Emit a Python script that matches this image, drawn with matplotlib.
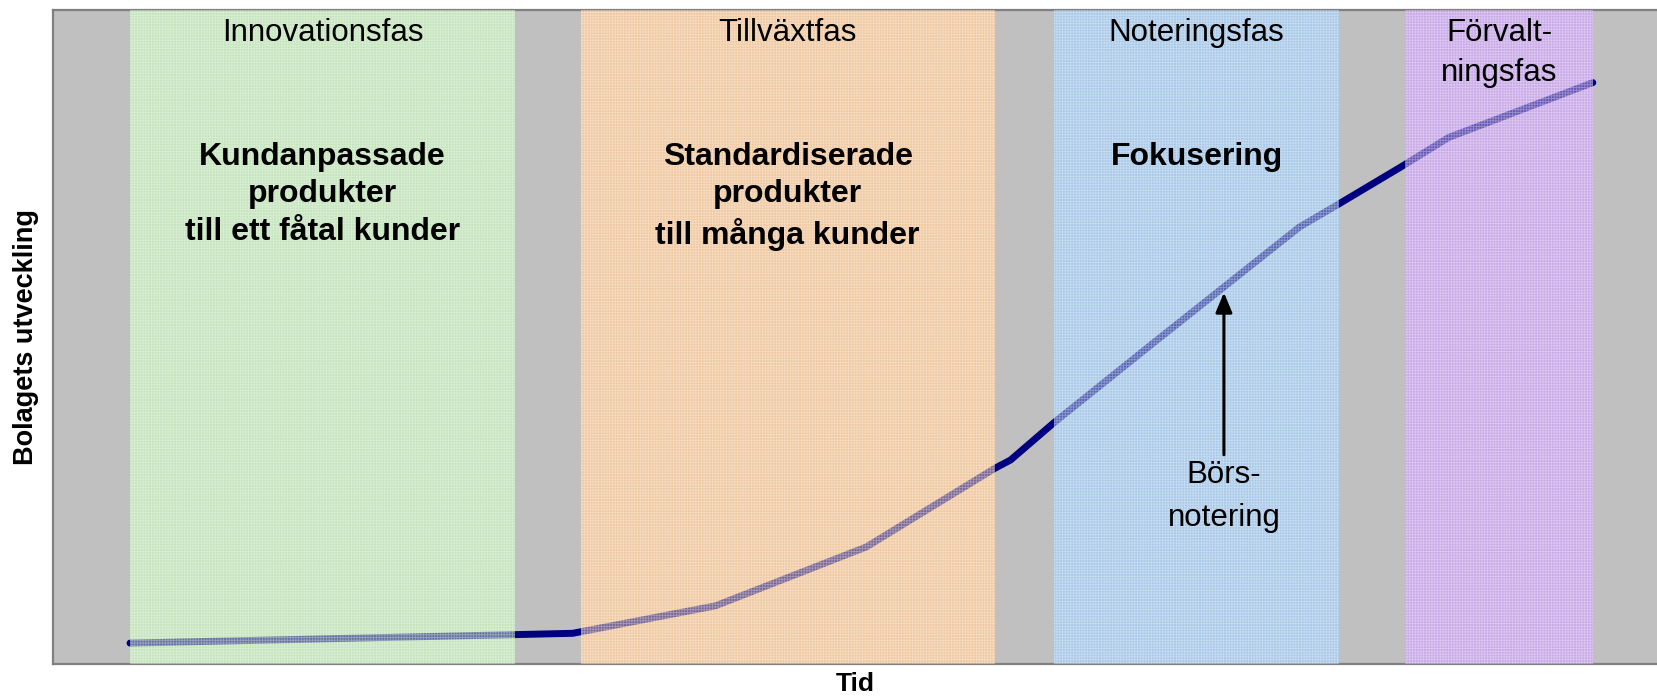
import matplotlib
matplotlib.use("Agg")
import matplotlib.pyplot as plt
from matplotlib.patches import Rectangle

plt.rcParams["font.family"] = ["Liberation Sans", "DejaVu Sans"]

# company development curve (x = time, y = development), axes 0..100
curve_x = [4.8, 28.8, 32.4, 41.3, 50.7, 58.7, 59.7, 62.4, 68.4, 77.7, 80.2, 84.1, 87.0, 96.0]
curve_y = [3.2, 4.5, 4.7, 8.9, 17.9, 29.9, 31.2, 36.9, 48.7, 66.8, 70.4, 76.1, 80.5, 88.9]

phase_names = ["Innovationsfas", "Tillväxtfas", "Noteringsfas", "Förvalt-\nningsfas"]
phase_start = [4.8, 32.9, 62.4, 84.3]
phase_end = [28.8, 58.7, 80.2, 96.0]
phase_colors = ["#c4e4bc", "#f0c8a0", "#a8c8e8", "#c8a8e8"]
phase_text = ["Kundanpassade\nprodukter\ntill ett fåtal kunder",
              "Standardiserade\nprodukter\ntill många kunder",
              "Fokusering", ""]

listing_x = 73.0
listing_tip = 56.8
listing_tail = 32.0

fig = plt.figure(figsize=(16.57, 6.99), dpi=100)
ax = fig.add_axes([0.032, 0.050, 0.968, 0.9357])
ax.set_facecolor("#c0c0c0")
ax.set_xlim(0, 100)
ax.set_ylim(0, 100)
ax.set_xticks([])
ax.set_yticks([])
for side in ("left", "top", "bottom"):
    ax.spines[side].set_color("#808080")
    ax.spines[side].set_linewidth(1.6)
ax.spines["right"].set_visible(False)

for x0, x1, c in zip(phase_start, phase_end, phase_colors):
    ax.add_patch(Rectangle((x0, 0), x1 - x0, 100, facecolor=c, edgecolor="none", zorder=1))

ax.plot(curve_x, curve_y, color="#000080", lw=5, solid_capstyle="round",
        solid_joinstyle="round", zorder=2)

# translucent band overlay tints the line inside each phase, fine grid texture
plt.rcParams["hatch.linewidth"] = 0.6
for x0, x1, c in zip(phase_start, phase_end, phase_colors):
    ax.add_patch(Rectangle((x0, 0), x1 - x0, 100, facecolor=c, alpha=0.5,
                           edgecolor="none", zorder=3))
    ax.add_patch(Rectangle((x0, 0), x1 - x0, 100, facecolor="none", hatch="++++++",
                           edgecolor=(1, 1, 1, 0.35), linewidth=0, zorder=3))

for x0, x1, name, txt in zip(phase_start, phase_end, phase_names, phase_text):
    xc = (x0 + x1) / 2
    ax.text(xc, 98.8, name, ha="center", va="top", fontsize=22.5, linespacing=1.45, zorder=5)
    if txt:
        ax.text(xc, 79.8, txt, ha="center", va="top", fontsize=23, fontweight="bold",
                linespacing=1.32, zorder=5)

ax.annotate("", xy=(listing_x, listing_tip), xytext=(listing_x, listing_tail),
            arrowprops=dict(arrowstyle="-|>,head_length=1.2,head_width=0.5",
                            color="black", lw=2.2, shrinkA=0, shrinkB=0), zorder=5)
ax.text(listing_x, 25.6, "Börs-\nnotering", ha="center", va="center", fontsize=22.5,
        linespacing=1.55, zorder=5)

ax.set_xlabel("Tid", fontsize=19, fontweight="bold", labelpad=6)
ax.set_ylabel("Bolagets utveckling", fontsize=19.5, fontweight="bold", labelpad=10)

fig.savefig("out.png", dpi=100)
